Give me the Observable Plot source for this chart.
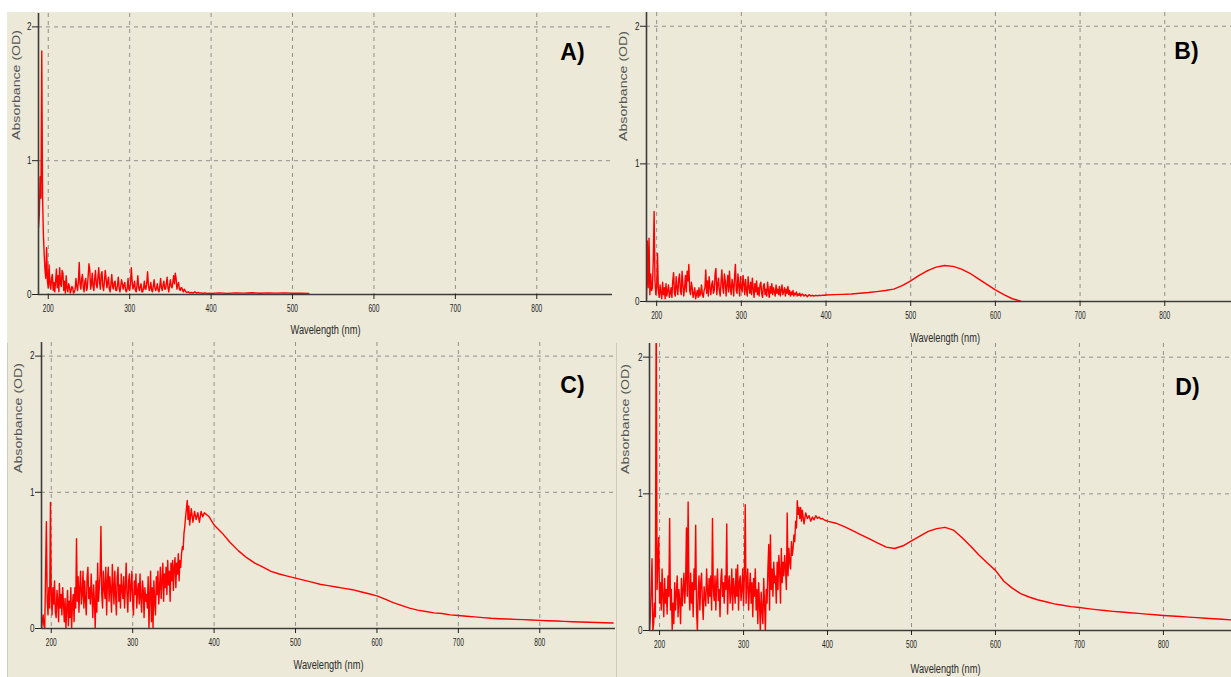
<!DOCTYPE html>
<html>
<head>
<meta charset="utf-8">
<script src="https://cdn.jsdelivr.net/npm/d3@7"></script>
<script src="https://cdn.jsdelivr.net/npm/@observablehq/plot@0.6"></script>
<style>
html, body { margin: 0; padding: 0; background: #fff; overflow: hidden; }
#page { position: relative; width: 1231px; height: 677px; overflow: hidden; background: #fff; }
#bg { position: absolute; left: 7px; top: 12px; right: 0; bottom: 0; background: #ECE9D8; }
#frameC { position: absolute; left: 7px; top: 343px; width: 608px; bottom: -2px; border-left: 1px solid #cfcbbd; border-right: 1px solid #cfcbbd; }
.panel { position: absolute; }
</style>
</head>
<body>
<div id="page"><div id="bg"></div><div id="frameC"></div></div>
<script>
// ---- axis ticks & domains ----
const xTicks = [200, 300, 400, 500, 600, 700, 800];
const yTicks = [0, 1, 2];
const xDomain = [188, 893];
const yDomain = [0, 2.1];
const panelLetters = ["A)", "B)", "C)", "D)"];
const xAxisLabel = "Wavelength (nm)";
const yAxisLabel = "Absorbance (OD)";

// ---- wavelengths (nm) ----
const wlNoise = [188,189,190,191,192,193,194,195,196,197,198,199,200,201,202,203,204,205,206,207,208,209,210,211,212,213,214,215,216,217,218,219,220,221,222,223,224,225,226,227,228,229,230,231,232,233,234,235,236,237,238,239,240,241,242,243,244,245,246,247,248,249,250,251,252,253,254,255,256,257,258,259,260,261,262,263,264,265,266,267,268,269,270,271,272,273,274,275,276,277,278,279,280,281,282,283,284,285,286,287,288,289,290,291,292,293,294,295,296,297,298,299,300,301,302,303,304,305,306,307,308,309,310,311,312,313,314,315,316,317,318,319,320,321,322,323,324,325,326,327,328,329,330,331,332,333,334,335,336,337,338,339,340,341,342,343,344,345,346,347,348,349,350,351,352,353,354,355,356,357,358,359,360,361,362,363,364,365,366,367,368,369,370,372,374,376,378,380,382,384,386,388,390,392,394,396,398,400];
const wlSmooth = [410,420,430,440,450,460,470,480,490,500,510,520,530,540,550,560,570,580,590,600,610,620,630,640,650,660,670,680,690,700,710,720,730,740,750,760,770,780,790,800,810,820,830,840,850,860,870,880,890];

// ---- Panel A absorbance ----
const aNoise = [0.5,0.6,0.88,0.72,1.82,0.72,0.45,0.3,0.18,0.12,
  0.35,0.1,0.05,0.22,0.08,0.04,0.12,0.15,0.03,0.09,
  0.02,0.1,0.19,0.05,0.14,0.02,0.2,0.08,0.06,0.18,
  0.16,0.03,0.1,0.01,0.14,0.05,0.02,0.08,0.06,0.01,
  0.03,0.06,0.05,0.01,0.02,0.04,0.12,0.06,0.03,0.1,
  0.24,0.08,0.04,0.12,0.15,0.05,0.02,0.1,0.12,0.03,
  0.05,0.14,0.23,0.18,0.04,0.08,0.16,0.06,0.03,0.12,
  0.18,0.07,0.05,0.13,0.2,0.09,0.04,0.15,0.17,0.06,
  0.03,0.1,0.18,0.12,0.05,0.09,0.13,0.04,0.02,0.08,
  0.15,0.06,0.04,0.09,0.1,0.03,0.03,0.07,0.13,0.05,
  0.02,0.06,0.11,0.08,0.04,0.07,0.09,0.03,0.02,0.05,
  0.12,0.04,0.03,0.08,0.2,0.1,0.04,0.06,0.1,0.03,
  0.02,0.07,0.14,0.05,0.03,0.06,0.08,0.02,0.02,0.05,
  0.1,0.04,0.04,0.09,0.17,0.07,0.03,0.05,0.09,0.03,
  0.02,0.06,0.11,0.05,0.03,0.05,0.08,0.03,0.02,0.06,
  0.12,0.05,0.03,0.07,0.1,0.04,0.04,0.08,0.13,0.05,
  0.02,0.07,0.11,0.06,0.05,0.09,0.14,0.08,0.16,0.12,
  0.04,0.07,0.09,0.04,0.03,0.05,0.05,0.03,0.02,0.04,
  0.03,0.02,0.015,
  0.02,0.01,0.015,0.01,0.02,0.01,0.015,0.01,0.012,0.008,0.012,0.01,0.008,0.01,0.008];
const aSmooth = [0.012,0.008,0.012,0.01,0.013,0.009,0.012,0.01,0.012,0.009,0.01,0.008];

// ---- Panel B absorbance ----
const bNoise = [0.02,0.44,0.1,0.46,0.05,0.2,0.08,0.1,0.3,0.655,
  0.15,0.05,0.1,0.35,0.08,0.03,0.12,0.06,0.02,0.14,
  0.05,0.1,0.02,0.13,0.04,0.08,0.12,0.03,0.06,0.1,
  0.03,0.15,0.21,0.06,0.04,0.18,0.1,0.05,0.16,0.2,
  0.08,0.05,0.22,0.12,0.04,0.1,0.19,0.07,0.22,0.15,
  0.27,0.08,0.05,0.14,0.1,0.03,0.06,0.1,0.02,0.05,
  0.08,0.03,0.1,0.04,0.06,0.12,0.05,0.03,0.08,0.1,
  0.23,0.06,0.15,0.04,0.18,0.1,0.05,0.12,0.15,0.06,
  0.08,0.2,0.24,0.05,0.12,0.17,0.08,0.04,0.14,0.23,
  0.1,0.06,0.2,0.15,0.04,0.12,0.19,0.07,0.22,0.1,
  0.05,0.16,0.12,0.04,0.18,0.27,0.08,0.06,0.2,0.12,
  0.04,0.18,0.1,0.07,0.19,0.13,0.05,0.16,0.08,0.04,
  0.18,0.1,0.06,0.14,0.05,0.17,0.09,0.03,0.13,0.07,
  0.15,0.05,0.1,0.04,0.12,0.14,0.06,0.03,0.11,0.13,
  0.05,0.09,0.04,0.14,0.08,0.03,0.11,0.06,0.13,0.05,
  0.1,0.07,0.04,0.12,0.06,0.09,0.05,0.11,0.04,0.08,
  0.12,0.05,0.07,0.1,0.04,0.09,0.06,0.11,0.05,0.08,
  0.04,0.07,0.05,0.08,0.04,0.06,0.05,0.07,0.04,0.055,
  0.045,0.06,0.04,
  0.055,0.04,0.05,0.035,0.05,0.04,0.045,0.04,0.045,0.042,0.045,0.043,0.046,0.045,0.047];
const bSmooth = [0.05,0.052,0.055,0.06,0.065,0.072,0.08,0.09,0.115,0.15,0.19,0.225,0.25,0.262,0.255,0.235,0.205,0.165,0.125,0.085,0.05,0.02,0.003];

// ---- Panel C absorbance ----
const cNoise = [0,0.05,0.1,0.02,0,0.4,0.785,0.2,0.1,0.3,
  0.15,0.926,0.25,0.1,0.3,0.18,0.35,0.12,0.08,0.28,
  0.2,0.05,0.33,0.15,0.25,0.1,0.3,0.18,0.05,0.22,
  0,0.15,0.28,0.02,0.2,0.08,0.3,0,0.18,0.25,
  0.05,0.3,0.15,0.66,0.2,0.38,0.12,0.3,0.42,0.18,
  0.25,0.42,0.15,0.35,0.2,0.1,0.38,0.45,0.22,0.3,
  0.18,0.4,0.25,0.08,0.32,0.2,0,0.35,0.12,0.48,
  0.2,0.3,0.4,0.75,0.25,0.15,0.42,0.3,0.22,0.45,
  0.1,0.35,0.45,0.2,0.38,0.28,0.12,0.47,0.3,0.18,
  0.42,0.25,0.1,0.38,0.45,0.2,0.32,0.15,0.4,0.28,
  0.22,0.38,0.15,0.3,0.48,0.25,0.12,0.35,0.4,0.2,
  0.3,0.42,0.18,0.1,0.35,0.25,0.4,0.15,0.28,0.33,
  0.18,0.4,0.22,0.12,0.35,0.28,0.08,0.3,0.2,0.25,
  0.15,0.38,0,0.25,0.42,0.05,0.3,0,0.35,0.2,
  0.1,0.38,0.25,0.42,0.18,0.3,0.45,0.22,0.35,0.48,
  0.2,0.4,0.3,0.45,0.25,0.5,0.32,0.42,0.2,0.48,
  0.35,0.5,0.28,0.45,0.52,0.3,0.48,0.4,0.55,0.35,
  0.5,0.45,0.55,0.6,0.58,0.7,0.75,0.82,0.88,0.94,
  0.8,0.9,0.76,
  0.88,0.78,0.86,0.8,0.85,0.78,0.86,0.82,0.85,0.84,0.83,0.82,0.8,0.78,0.76];
const cSmooth = [0.7,0.63,0.57,0.52,0.48,0.45,0.42,0.4,0.385,0.37,
  0.355,0.34,0.325,0.315,0.305,0.295,0.285,0.27,0.255,0.24,
  0.215,0.19,0.17,0.15,0.135,0.125,0.115,0.11,0.1,0.095,
  0.09,0.085,0.08,0.075,0.072,0.07,0.067,0.065,0.062,0.06,
  0.057,0.055,0.052,0.05,0.048,0.046,0.044,0.042,0.04];

// ---- Panel D absorbance ----
const dNoise = [0,0.1,0.3,0.525,0,0.05,0.2,0.1,2.5,0.3,
  0.5,0.68,0.2,0.35,0.15,0.45,0.25,0.1,0.38,0.2,
  0.3,0.12,0.4,0.25,0.82,0.15,0.3,0,0.2,0.05,
  0.35,0.15,0.28,0.4,0.1,0.3,0.22,0.05,0.38,0.18,
  0.3,0.42,0.2,0.35,0.75,0.25,0.94,0.3,0.15,0.42,
  0.2,0.35,0.1,0.45,0.3,0.77,0.15,0,0.28,0.4,
  0.15,0.35,0.42,0.2,0.08,0.32,0.25,0.18,0.45,0.3,
  0.2,0.38,0.25,0.4,0.15,0.82,0.3,0.22,0.4,0.15,
  0.35,0.45,0.22,0.3,0.1,0.38,0.45,0.25,0.35,0.2,
  0.4,0.3,0.78,0.12,0.35,0.4,0.2,0.28,0.45,0.15,
  0.38,0.3,0.2,0.45,0.25,0.48,0.15,0.35,0.4,0.22,
  0.3,0.45,0.18,0.4,0.92,0.2,0.35,0.45,0.15,0.3,
  0.42,0.2,0.35,0.1,0.38,0.25,0.45,0.15,0.3,0.05,
  0.35,0.2,0,0.28,0.15,0.05,0.38,0.2,0,0.3,
  0.2,0.45,0.63,0.15,0.7,0.3,0.45,0.25,0.5,0.35,
  0.4,0.2,0.5,0.3,0.55,0.45,0.2,0.6,0.35,0.5,
  0.4,0.55,0.45,0.3,0.86,0.4,0.6,0.5,0.45,0.65,
  0.55,0.6,0.7,0.65,0.8,0.75,0.95,0.85,0.9,0.82,
  0.9,0.8,0.88,
  0.78,0.86,0.82,0.84,0.8,0.83,0.81,0.84,0.82,0.83,0.815,0.82,0.81,0.805,0.8];
const dSmooth = [0.785,0.76,0.73,0.7,0.67,0.64,0.61,0.6,0.62,0.655,
  0.69,0.725,0.745,0.755,0.735,0.68,0.62,0.555,0.495,0.44,
  0.36,0.31,0.27,0.245,0.225,0.21,0.195,0.185,0.175,0.168,
  0.16,0.153,0.146,0.14,0.135,0.13,0.125,0.12,0.115,0.11,
  0.106,0.102,0.098,0.094,0.09,0.086,0.082,0.078,0.074];

function series(noise, smooth) {
  const wl = wlNoise.concat(wlSmooth.slice(0, smooth.length));
  const ab = noise.concat(smooth);
  return wl.map((w, i) => ({wl: w, abs: ab[i]}));
}

// layout of each panel (pixel offsets only)
const layouts = [
  {noise: aNoise, smooth: aSmooth, left: 0,   top: 0,   width: 615, height: 340, mL: 38, mR: 3, mT: 13, mB: 46, xlDy: 39, lDx: -40, lDy: 30, ylX: 16, ylY: 85},
  {noise: bNoise, smooth: bSmooth, left: 600, top: 0,   width: 646, height: 346, mL: 46, mR: 3, mT: 12, mB: 45, xlDy: 40, lDx: -57, lDy: 30, ylX: 23, ylY: 86},
  {noise: cNoise, smooth: cSmooth, left: 0,   top: 330, width: 618, height: 344, mL: 41, mR: 3, mT: 12, mB: 46, xlDy: 40, lDx: -43, lDy: 34, ylX: 18, ylY: 88},
  {noise: dNoise, smooth: dSmooth, left: 600, top: 330, width: 644, height: 346, mL: 49, mR: 3, mT: 13, mB: 46, xlDy: 42, lDx: -54, lDy: 35, ylX: 25, ylY: 89}
];

const gridStyle = {stroke: "#8f8f8f", strokeOpacity: 1, strokeWidth: 1, strokeDasharray: "4,4"};
const page = document.getElementById("page");

layouts.forEach((L, k) => {
  const svg = Plot.plot({
    width: L.width,
    height: L.height,
    marginLeft: L.mL,
    marginRight: L.mR,
    marginTop: L.mT,
    marginBottom: L.mB,
    style: {background: "transparent", overflow: "visible", maxWidth: "none", fontFamily: "'Liberation Sans', Arial, sans-serif"},
    x: {domain: xDomain},
    y: {domain: yDomain},
    marks: [
      Plot.gridX(xTicks, gridStyle),
      Plot.gridY(yTicks.filter(d => d > 0), gridStyle),
      Plot.line(series(L.noise, L.smooth), {x: "wl", y: "abs", stroke: "#ff0000", strokeWidth: 1.4, clip: true}),
      Plot.ruleY([yDomain[0]], {stroke: "#3c3c3c", strokeWidth: 1.6}),
      Plot.ruleX([xDomain[0]], {stroke: "#3c3c3c", strokeWidth: 1.6}),
      Plot.axisX(xTicks, {tickSize: 5, tickPadding: 4, fontSize: 11.5, label: null, color: "#222"}),
      Plot.axisY(yTicks, {tickSize: 6, tickPadding: 1, fontSize: 10.5, label: null, color: "#222", tickFormat: d3.format("d")}),
      Plot.text([xAxisLabel], {frameAnchor: "bottom", dy: L.xlDy, fontSize: 12.5, fill: "#2a2a2a"}),
      Plot.text([panelLetters[k]], {frameAnchor: "top-right", textAnchor: "middle", dx: L.lDx, dy: L.lDy, fontSize: 23, fontWeight: "bold", fill: "#000"})
    ]
  });
  // rotated y-axis title
  d3.select(svg).append("text")
    .attr("transform", `translate(${L.ylX},${L.ylY}) rotate(-90)`)
    .attr("text-anchor", "middle")
    .attr("dominant-baseline", "central")
    .attr("font-size", 10)
    .attr("fill", "#555")
    .text(yAxisLabel);
  // squeeze texts to the narrow proportions of the original screenshot
  d3.select(svg).selectAll("text").each(function() {
    const t = this.textContent;
    let len = null;
    if (t === xAxisLabel) len = 70;
    else if (t === yAxisLabel) len = 110;
    else if (/^\d00$/.test(t)) len = 11;
    else if (/^[0-9]$/.test(t)) len = 4.5;
    if (len) d3.select(this).attr("textLength", len).attr("lengthAdjust", "spacingAndGlyphs");
  });
  const div = document.createElement("div");
  div.className = "panel";
  div.style.left = L.left + "px";
  div.style.top = L.top + "px";
  div.style.width = L.width + "px";
  div.style.height = L.height + "px";
  div.appendChild(svg);
  page.appendChild(div);
});
</script>
</body>
</html>
